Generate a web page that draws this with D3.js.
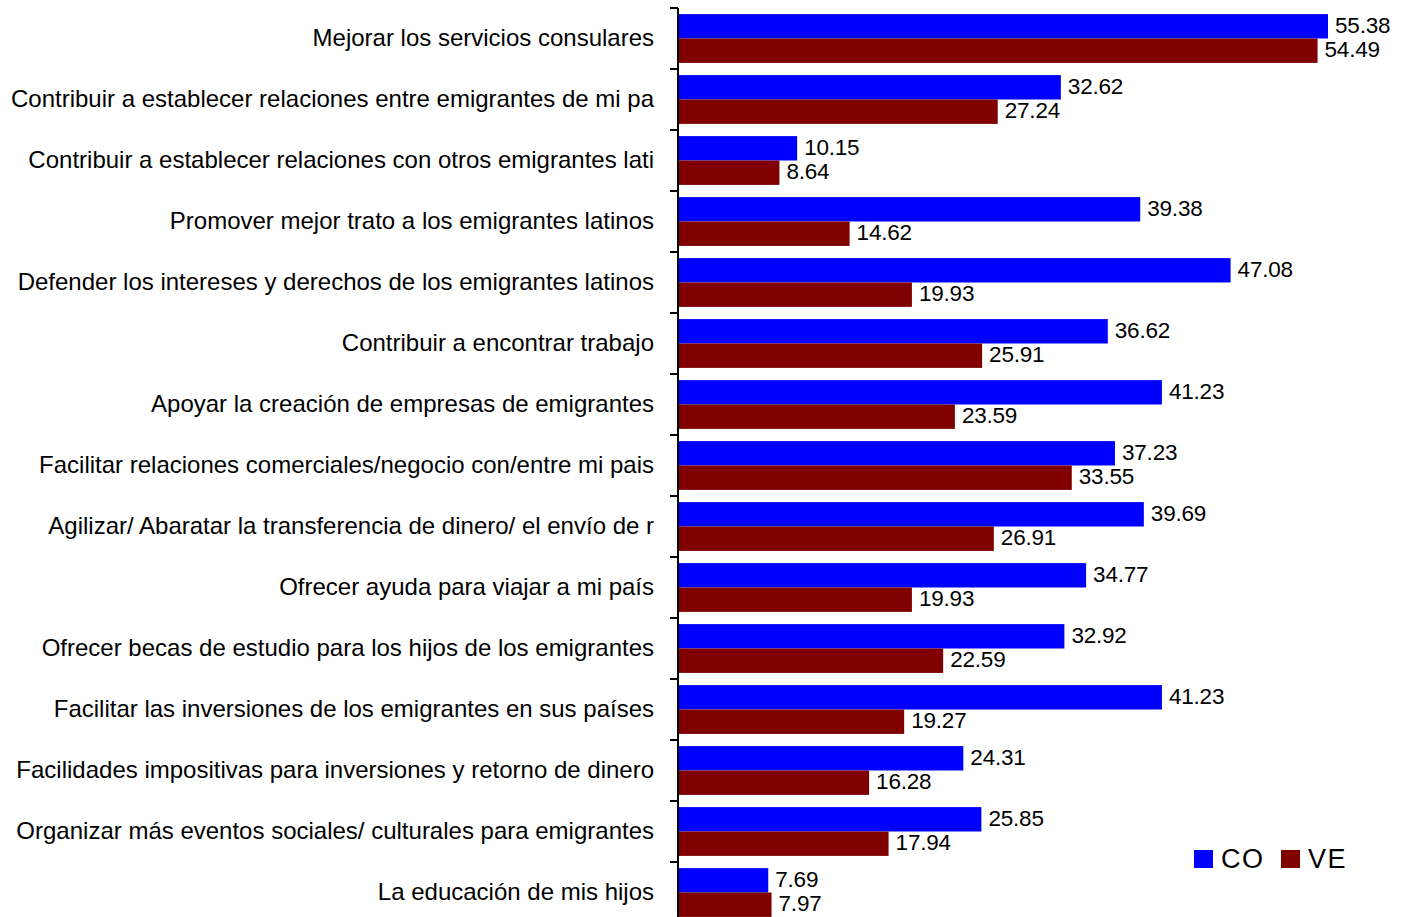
<!DOCTYPE html>
<html><head><meta charset="utf-8">
<script src="https://cdn.jsdelivr.net/npm/d3@7"></script>
<style>body{margin:0;background:#fff}svg{display:block}</style>
</head><body>
<svg id="c" width="1401" height="917"></svg>
<script>
const categories = [
 "Mejorar los servicios consulares",
 "Contribuir a establecer relaciones entre emigrantes de mi pa",
 "Contribuir a establecer relaciones con otros emigrantes lati",
 "Promover mejor trato a los emigrantes latinos",
 "Defender los intereses y derechos de los emigrantes latinos",
 "Contribuir a encontrar trabajo",
 "Apoyar la creación de empresas de emigrantes",
 "Facilitar relaciones comerciales/negocio con/entre mi pais",
 "Agilizar/ Abaratar la transferencia de dinero/ el envío de r",
 "Ofrecer ayuda para viajar a mi país",
 "Ofrecer becas de estudio para los hijos de los emigrantes",
 "Facilitar las inversiones de los emigrantes en sus países",
 "Facilidades impositivas para inversiones y retorno de dinero",
 "Organizar más eventos sociales/ culturales para emigrantes",
 "La educación de mis hijos"
];
const seriesNames = ["CO","VE"];
const valuesCO = [55.38,32.62,10.15,39.38,47.08,36.62,41.23,37.23,39.69,34.77,32.92,41.23,24.31,25.85,7.69];
const valuesVE = [54.49,27.24,8.64,14.62,19.93,25.91,23.59,33.55,26.91,19.93,22.59,19.27,16.28,17.94,7.97];
const colors = {CO:"#0000ff", VE:"#800000"};

const svg = d3.select("#c");
const font = "'Liberation Sans', Arial, sans-serif";
const x = d3.scaleLinear().domain([0,60]).range([678, 678+60*650/55.38]);
const y = d3.scaleBand().domain(categories).range([8, 923]).paddingInner(0.2).paddingOuter(0.1);
const ys = d3.scaleBand().domain(seriesNames).range([0, y.bandwidth()]);
const data = categories.map((c,i)=>({c, CO:valuesCO[i], VE:valuesVE[i]}));

const g = svg.append("g");
data.forEach(d=>{
  seriesNames.forEach(s=>{
    g.append("rect").attr("x", x(0)).attr("y", y(d.c)+ys(s))
      .attr("width", x(d[s])-x(0)).attr("height", ys.bandwidth()).attr("fill", colors[s]);
    g.append("text").attr("x", x(d[s])+7)
      .attr("y", y(d.c)+ys(s) + (s==="CO"? 19 : 18))
      .attr("font-family", font).attr("font-size", 22.5).attr("letter-spacing", -0.2)
      .attr("fill","#000").text(d[s].toFixed(2));
  });
});

// axis
const step = y.step();
svg.append("line").attr("x1",678).attr("x2",678).attr("y1",y.range()[0]).attr("y2",y.range()[1])
  .attr("stroke","#000").attr("stroke-width",2);
d3.range(categories.length+1).forEach(i=>{
  const yy = y.range()[0] + i*step;
  svg.append("line").attr("x1",670).attr("x2",678).attr("y1",yy).attr("y2",yy).attr("stroke","#000").attr("stroke-width",2);
});
categories.forEach(c=>{
  svg.append("text").attr("x",654).attr("y", y(c)+y.bandwidth()/2 + 7)
    .attr("text-anchor","end")
    .attr("font-family",font).attr("font-size",24).attr("letter-spacing",0)
    .attr("fill","#000").text(c);
});

// legend
const leg = [{s:"CO", x:1194},{s:"VE", x:1281}];
leg.forEach(l=>{
  svg.append("rect").attr("x",l.x).attr("y",850).attr("width",19).attr("height",18).attr("fill",colors[l.s]);
  svg.append("text").attr("x",l.x+27).attr("y",868)
    .attr("font-family",font).attr("font-size",27).attr("letter-spacing",1.5).attr("fill","#000").text(l.s);
});
</script>
</body></html>
